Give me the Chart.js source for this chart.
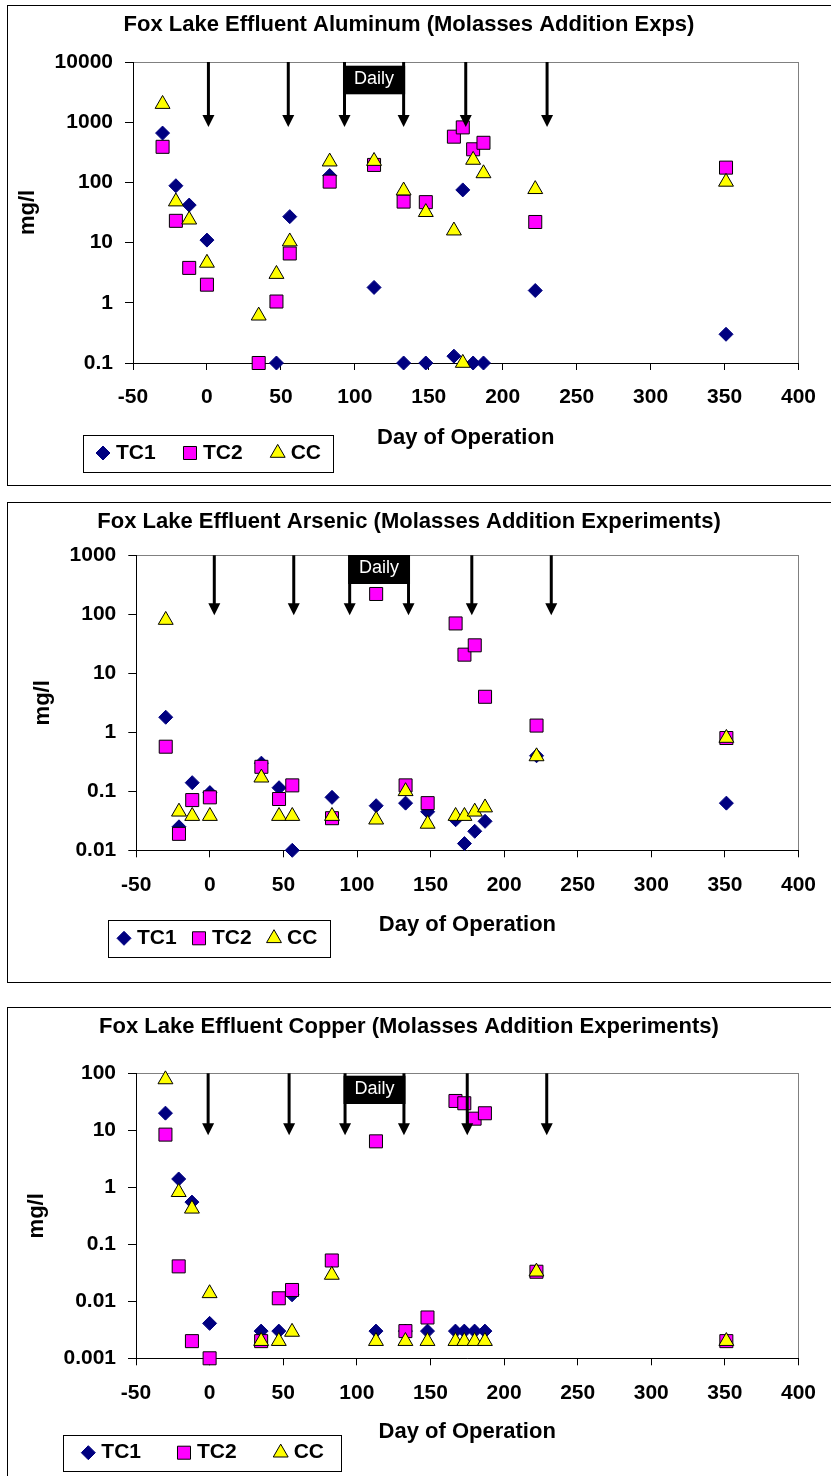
<!DOCTYPE html>
<html>
<head>
<meta charset="utf-8">
<script src="https://cdn.jsdelivr.net/npm/chart.js@4.4.0/dist/chart.umd.min.js"></script>
<style>
  html, body { margin: 0; padding: 0; background: #fff; overflow: hidden; width: 831px; height: 1476px; }
  .panel { position: absolute; left: 7px; width: 840px; height: 479px; border: 1px solid #000; background: #fff; }
  .panel canvas { display: block; }
</style>
</head>
<body>
<div class="panel" style="top:5px"><canvas id="c1" width="823" height="479"></canvas></div>
<div class="panel" style="top:502px"><canvas id="c2" width="823" height="479"></canvas></div>
<div class="panel" style="top:1007px"><canvas id="c3" width="823" height="479"></canvas></div>
<script>
/* ========== データ ========== */
const days = [-30, -21, -12, 0, 35, 47, 56, 83, 113, 133, 148, 167, 173, 180, 187, 222, 351];
const xTicks = [-50, 0, 50, 100, 150, 200, 250, 300, 350, 400];
const seriesNames = ["TC1", "TC2", "CC"];

// Aluminum
const alTC1 = [660, 88, 42, 11, null, 0.1, 27, 130, 1.8, 0.1, 0.1, 0.13, 75, 0.1, 0.1, 1.6, 0.3];
const alTC2 = [390, 23, 3.8, 2, 0.1, 1.05, 6.6, 103, 195, 48, 47, 575, 820, 355, 455, 22, 176];
const alCC  = [2000, 48, 24, 4.6, 0.61, 3.0, 10.4, 221, 226, 73, 32, 15.8, 0.1, 236, 141, 77, 102];
const alTicks = [0.1, 1, 10, 100, 1000, 10000];
const alTickLabels = ["0.1", "1", "10", "100", "1000", "10000"];
const alArrows = [1, 55, 93, 133, 175, 230];

// Arsenic
const asTC1 = [1.8, 0.025, 0.14, 0.095, 0.3, 0.115, 0.01, 0.079, 0.057, 0.063, 0.045, 0.033, 0.013, 0.021, 0.031, 0.40, 0.063];
const asTC2 = [0.57, 0.019, 0.071, 0.079, 0.26, 0.074, 0.126, 0.035, 221, 0.126, 0.063, 70, 20.7, 29.8, 4.0, 1.3, 0.8];
const asCC  = [80, 0.045, 0.038, 0.038, 0.17, 0.038, 0.038, 0.038, 0.033, 0.10, 0.028, 0.038, 0.038, 0.045, 0.053, 0.39, 0.8];
const asTicks = [0.01, 0.1, 1, 10, 100, 1000];
const asTickLabels = ["0.01", "0.1", "1", "10", "100", "1000"];
const asArrows = [3, 57, 95, 135, 178, 232];

// Copper
const cuTC1 = [20, 1.4, 0.55, 0.0041, 0.003, 0.003, 0.013, null, 0.003, 0.003, 0.003, 0.003, 0.003, 0.003, 0.003, null, null];
const cuTC2 = [8.4, 0.041, 0.002, 0.001, 0.002, 0.0113, 0.0158, 0.052, 6.4, 0.003, 0.0052, 32.7, 29.8, 16, 19.9, 0.033, 0.002];
const cuCC  = [78, 0.82, 0.42, 0.0138, 0.002, 0.002, 0.0029, 0.029, 0.002, 0.002, 0.002, 0.002, 0.002, 0.002, 0.002, 0.033, 0.002];
const cuTicks = [0.001, 0.01, 0.1, 1, 10, 100];
const cuTickLabels = ["0.001", "0.01", "0.1", "1", "10", "100"];
const cuArrows = [-1, 54, 92, 132, 175, 229];

const FONT = "'Liberation Sans', Arial, sans-serif";
const W = 823, H = 479;

/* ========== パネル設定（配置のみ） ========== */
const panels = [
  {
    id: "c1", title: "Fox Lake Effluent Aluminum (Molasses Addition Exps)",
    series: [alTC1, alTC2, alCC], ticks: alTicks, labels: alTickLabels, arrows: alArrows,
    area: { left: 125, right: 802, top: 56, bottom: 357 },
    yTitleX: 19.5, xTitleY: 432.3, arrowLen: 65, daily: [3.7, 32.3],
    legend: { x: 74.7, y: 429, w: 250, h: 37, my: 447, items: [95, 182, 269.7] }
  },
  {
    id: "c2", title: "Fox Lake Effluent Arsenic (Molasses Addition Experiments)",
    series: [asTC1, asTC2, asCC], ticks: asTicks, labels: asTickLabels, arrows: asArrows,
    area: { left: 128.3, right: 802, top: 52.3, bottom: 347.3 },
    yTitleX: 35.3, xTitleY: 422, arrowLen: 60, daily: [-0.3, 28.7],
    legend: { x: 100, y: 417, w: 222, h: 37, my: 435.3, items: [116, 191, 266] }
  },
  {
    id: "c3", title: "Fox Lake Effluent Copper (Molasses Addition Experiments)",
    series: [cuTC1, cuTC2, cuCC], ticks: cuTicks, labels: cuTickLabels, arrows: cuArrows,
    area: { left: 128, right: 802, top: 65.3, bottom: 350.3 },
    yTitleX: 28.7, xTitleY: 424, arrowLen: 62, daily: [2.4, 30.7],
    legend: { x: 55.3, y: 427, w: 278.4, h: 36, my: 444.7, items: [80.3, 176, 272.7] }
  }
];

const styles = [
  { pointStyle: "rectRot", pointRadius: 7, backgroundColor: "#000080", borderColor: "#000080", borderWidth: 1, order: 3 },
  { pointStyle: "rect", pointRadius: 9.2, backgroundColor: "#FF00FF", borderColor: "#000", borderWidth: 1, order: 2 },
  { pointStyle: "triangle", pointRadius: 8.6, backgroundColor: "#FFFF00", borderColor: "#000", borderWidth: 1, order: 1 }
];

/* ========== 矢印・Daily・凡例 ========== */
function makeMarks(p) {
  return {
    id: "marks",
    beforeDraw(chart) {
      const a = chart.chartArea, ctx = chart.ctx;
      ctx.save();
      ctx.strokeStyle = "#808080";
      ctx.lineWidth = 1;
      ctx.strokeRect(Math.round(a.left) + 0.5, Math.round(a.top) + 0.5,
        Math.round(a.right - a.left), Math.round(a.bottom - a.top));
      ctx.restore();
    },
    afterDatasetsDraw(chart) {
      const a = chart.chartArea, ctx = chart.ctx, xs = chart.scales.x;
      const tip = a.top + p.arrowLen;
      ctx.save();
      ctx.fillStyle = "#000";
      ctx.strokeStyle = "#000";
      ctx.lineWidth = 3;
      p.arrows.forEach(d => {
        const x = xs.getPixelForValue(d);
        ctx.beginPath();
        ctx.moveTo(x, a.top);
        ctx.lineTo(x, tip - 10);
        ctx.stroke();
        ctx.beginPath();
        ctx.moveTo(x - 6, tip - 12);
        ctx.lineTo(x + 6, tip - 12);
        ctx.lineTo(x, tip);
        ctx.closePath();
        ctx.fill();
      });
      // Daily box between the 3rd and 4th arrows
      const x1 = xs.getPixelForValue(p.arrows[2]) - 1.5;
      const x2 = xs.getPixelForValue(p.arrows[3]) + 1.5;
      const y1 = a.top + p.daily[0], y2 = a.top + p.daily[1];
      ctx.fillRect(x1, y1, x2 - x1, y2 - y1);
      ctx.fillStyle = "#fff";
      ctx.font = "18px " + FONT;
      ctx.textAlign = "center";
      ctx.textBaseline = "middle";
      ctx.fillText("Daily", (x1 + x2) / 2, (y1 + y2) / 2 - 1);
      ctx.restore();
    },
    afterDraw(chart) {
      const ctx = chart.ctx, L = p.legend;
      ctx.save();
      ctx.fillStyle = "#fff";
      ctx.fillRect(L.x, L.y, L.w, L.h);
      ctx.strokeStyle = "#000";
      ctx.lineWidth = 1;
      ctx.strokeRect(Math.round(L.x) + 0.5, Math.round(L.y) + 0.5, Math.round(L.w), Math.round(L.h));
      chart.data.datasets.forEach((ds, i) => {
        const x = L.items[i];
        ctx.fillStyle = ds.backgroundColor;
        ctx.strokeStyle = ds.borderColor;
        ctx.lineWidth = ds.borderWidth;
        Chart.helpers.drawPoint(ctx, { pointStyle: ds.pointStyle, radius: ds.pointRadius, rotation: 0, borderWidth: ds.borderWidth }, x, L.my);
        ctx.fillStyle = "#000";
        ctx.font = "bold 21px " + FONT;
        ctx.textAlign = "left";
        ctx.textBaseline = "middle";
        ctx.fillText(ds.label, x + 13, L.my);
      });
      ctx.restore();
    }
  };
}

/* ========== グラフ描画 ========== */
function renderPanel(p) {
  const datasets = p.series.map((vals, i) => Object.assign({
    label: seriesNames[i],
    data: days.map((d, j) => ({ x: d, y: vals[j] })).filter(pt => pt.y !== null),
    showLine: false,
    clip: false
  }, styles[i]));

  const tickFont = { family: FONT, size: 21, weight: "bold" };
  const titleFont = { family: FONT, size: 22, weight: "bold" };

  new Chart(document.getElementById(p.id), {
    type: "scatter",
    data: { datasets },
    options: {
      responsive: false,
      animation: false,
      devicePixelRatio: 1,
      layout: { padding: { left: 0, right: W - p.area.right, top: 0, bottom: 0 } },
      plugins: {
        legend: { display: false },
        tooltip: { enabled: false },
        title: {
          display: true, text: p.title, color: "#000", font: titleFont,
          padding: { top: 6, bottom: p.area.top - 6 - 26.4 }
        }
      },
      scales: {
        x: {
          type: "linear", min: -50, max: 400,
          afterBuildTicks: s => { s.ticks = xTicks.map(v => ({ value: v })); },
          afterFit: s => { s.height = H - p.area.bottom; },
          ticks: { color: "#000", font: tickFont, padding: 15, maxRotation: 0, autoSkip: false },
          grid: { drawOnChartArea: false, tickLength: 7, color: "#000" },
          border: { color: "#000", width: 1 },
          title: {
            display: true, text: "Day of Operation", color: "#000", font: titleFont,
            padding: { top: 0, bottom: H - p.xTitleY - 13.2 }
          }
        },
        y: {
          type: "logarithmic", min: p.ticks[0], max: p.ticks[p.ticks.length - 1],
          afterBuildTicks: s => { s.ticks = p.ticks.map(v => ({ value: v })); },
          afterFit: s => { s.width = p.area.left; },
          ticks: {
            color: "#000", font: tickFont, padding: 12, autoSkip: false,
            callback: v => p.labels[p.ticks.indexOf(v)]
          },
          grid: { drawOnChartArea: false, tickLength: 8, color: "#000" },
          border: { color: "#000", width: 1 },
          title: {
            display: true, text: "mg/l", color: "#000", font: titleFont,
            padding: { top: p.yTitleX - 13.2, bottom: 0 }
          }
        }
      }
    },
    plugins: [makeMarks(p)]
  });
}

panels.forEach(renderPanel);
</script>
</body>
</html>
